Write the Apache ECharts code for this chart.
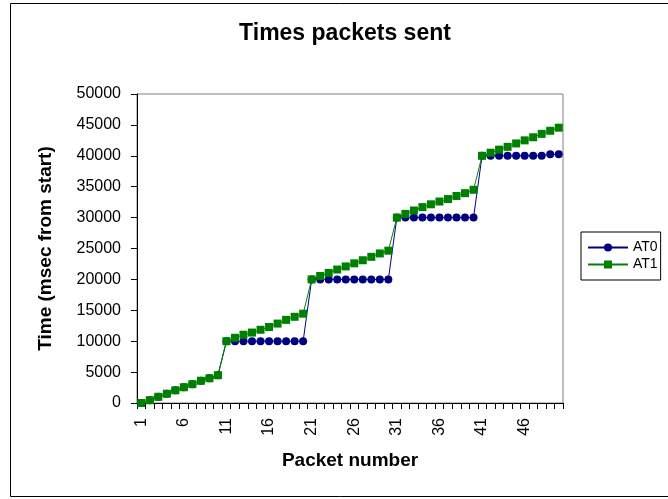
<!DOCTYPE html>
<html>
<head>
<meta charset="utf-8">
<script src="https://cdn.jsdelivr.net/npm/echarts@6/dist/echarts.min.js"></script>
<style>
  html, body { margin: 0; padding: 0; background: #fff; }
  #chart { width: 668px; height: 499px; }
</style>
</head>
<body>
<div id="chart"></div>
<script>
// Packet numbers along the x axis
const packets = [1, 2, 3, 4, 5, 6, 7, 8, 9, 10,
  11, 12, 13, 14, 15, 16, 17, 18, 19, 20,
  21, 22, 23, 24, 25, 26, 27, 28, 29, 30,
  31, 32, 33, 34, 35, 36, 37, 38, 39, 40,
  41, 42, 43, 44, 45, 46, 47, 48, 49, 50];

// Send times (msec from start) for each run
const at0 = [0, 450, 1000, 1500, 2050, 2550, 3050, 3600, 4000, 4500,
  10000, 10000, 10000, 10000, 10000, 10000, 10000, 10000, 10000, 10000,
  20000, 20000, 20000, 20000, 20000, 20000, 20000, 20000, 20000, 20000,
  30000, 30000, 30000, 30000, 30000, 30000, 30000, 30000, 30000, 30000,
  40000, 40000, 40000, 40000, 40000, 40000, 40000, 40000, 40250, 40250];

const at1 = [0, 450, 1000, 1500, 2050, 2550, 3050, 3600, 4000, 4500,
  10000, 10550, 11050, 11400, 11850, 12300, 12850, 13450, 13950, 14450,
  20000, 20550, 21050, 21600, 22100, 22600, 23100, 23650, 24200, 24650,
  30000, 30600, 31150, 31700, 32150, 32600, 33000, 33500, 33950, 34500,
  40000, 40500, 41000, 41450, 42000, 42500, 43000, 43550, 44050, 44550];

const seriesNames = ['AT0', 'AT1'];

const FONT = 'Liberation Sans, Arial, sans-serif';
const chart = echarts.init(document.getElementById('chart'), null, { renderer: 'canvas' });

chart.setOption({
  animation: false,
  backgroundColor: '#ffffff',
  title: {
    text: 'Times packets sent',
    left: 340,
    top: 17,
    textAlign: 'center',
    textStyle: { fontFamily: FONT, fontSize: 23, fontWeight: 'bold', color: '#000' }
  },
  graphic: [{
    type: 'rect',
    shape: { x: 10.5, y: 3.5, width: 700, height: 493 },
    style: { fill: 'none', stroke: '#000', lineWidth: 1 },
    z: -1
  }],
  legend: {
    orient: 'vertical',
    left: 581,
    top: 232,
    data: seriesNames,
    itemWidth: 40,
    itemHeight: 10,
    itemGap: 0,
    padding: [7, 3, 7, 6],
    borderColor: '#000',
    borderWidth: 1,
    textStyle: { fontFamily: FONT, fontSize: 14, lineHeight: 17, color: '#000' }
  },
  grid: {
    left: 137, right: 105, top: 94, bottom: 96,
    show: true,
    borderColor: '#808080',
    borderWidth: 1
  },
  xAxis: {
    type: 'category',
    data: packets,
    boundaryGap: true,
    name: 'Packet number',
    nameLocation: 'middle',
    nameGap: 48,
    nameTextStyle: { fontFamily: FONT, fontSize: 19, fontWeight: 'bold', color: '#000' },
    axisLine: { lineStyle: { color: '#000', width: 1 } },
    axisTick: { show: true, interval: 0, length: 6, lineStyle: { color: '#000' } },
    axisLabel: {
      interval: 4, rotate: 90, fontFamily: FONT, fontSize: 16, color: '#000', margin: 15
    },
    splitLine: { show: false }
  },
  yAxis: {
    type: 'value',
    min: 0,
    max: 50000,
    interval: 5000,
    name: 'Time (msec from start)',
    nameLocation: 'middle',
    nameGap: 82,
    nameTextStyle: { fontFamily: FONT, fontSize: 19, fontWeight: 'bold', color: '#000' },
    axisLine: { show: true, lineStyle: { color: '#000', width: 1 } },
    axisTick: { show: true, length: 6, lineStyle: { color: '#000' } },
    axisLabel: {
      fontFamily: FONT, fontSize: 16, color: '#000', margin: 16,
      formatter: (v) => String(v)
    },
    splitLine: { show: false }
  },
  series: [
    {
      name: seriesNames[0],
      type: 'line',
      data: at0,
      symbol: 'circle',
      symbolSize: 8,
      showAllSymbol: true,
      color: '#000080',
      lineStyle: { width: 1, color: '#000080' },
      itemStyle: { color: '#000080' }
    },
    {
      name: seriesNames[1],
      type: 'line',
      data: at1,
      symbol: 'rect',
      symbolSize: 8,
      showAllSymbol: true,
      color: '#008000',
      lineStyle: { width: 1, color: '#008000' },
      itemStyle: { color: '#008000' }
    }
  ]
});
</script>
</body>
</html>
